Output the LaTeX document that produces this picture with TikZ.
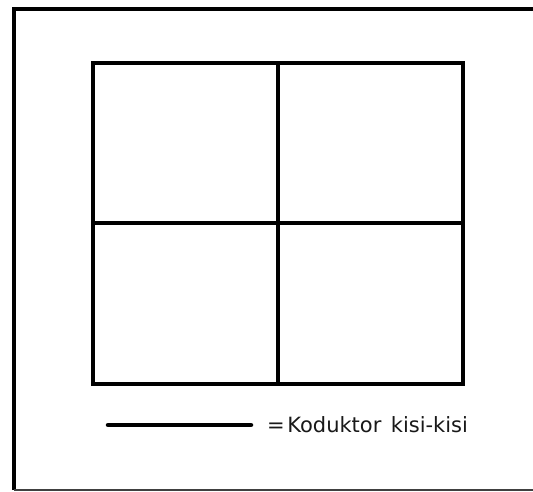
\documentclass[tikz,border=0pt]{standalone}
\usepackage{fontspec}
\setmainfont{DejaVu Sans}
\begin{document}
\begin{tikzpicture}[x=1pt,y=-1pt,
  frame/.style={line width=4pt},
  gridline/.style={line width=4pt},
  legendline/.style={line width=4.5pt, line cap=round},
  legendtext/.style={font=\fontsize{21}{24}\selectfont, text=black!90, inner sep=0pt, anchor=base west}]
\useasboundingbox (0,0) rectangle (533,491);
\fill[white] (0,0) rectangle (533,491);
% outer frame
\draw[frame] (14,490) -- (14,9) -- (533,9);
\draw[line width=1.6pt, black!75] (14,490) -- (533,490);
% grid
\coordinate (g1) at (93,63);
\coordinate (g2) at (463,384);
\draw[gridline, line cap=rect] (g1) rectangle (g2);
\draw[gridline] (278,63) -- (278,384);
\draw[gridline] (93,223) -- (463,223);
% legend
\coordinate (la) at (108,425);
\coordinate (lb) at (251,425);
\draw[legendline] (la) -- (lb);
\node[legendtext] (lt) at (267,432.5) {=\hspace{0.12em}Koduktor\hspace{0.45em}kisi-kisi};
\end{tikzpicture}
\end{document}
